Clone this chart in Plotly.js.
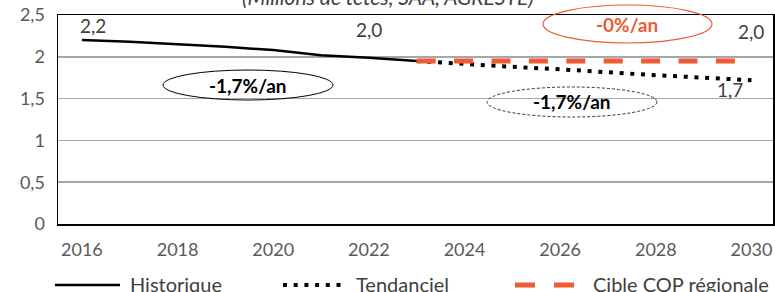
<!DOCTYPE html>
<html>
<head>
<meta charset="utf-8">
<script src="https://cdn.plot.ly/plotly-3.0.1.min.js"></script>
<style>html,body{margin:0;padding:0;background:#fff;}#chart{width:775px;height:292px;}</style>
</head>
<body>
<div id="chart"></div>
<script>
// ---- Data ----
const histYears = [2016, 2017, 2018, 2019, 2020, 2021, 2022, 2023];
const histValues = [2.20, 2.18, 2.15, 2.12, 2.08, 2.02, 1.99, 1.95];
const trendYears = [2023, 2024, 2025, 2026, 2027, 2028, 2029, 2030];
const trendValues = [1.95, 1.91, 1.88, 1.85, 1.81, 1.78, 1.75, 1.72];
const copYears = [2023, 2024, 2025, 2026, 2027, 2028, 2029, 2030];
const copValues = [1.95, 1.95, 1.95, 1.95, 1.95, 1.95, 1.95, 1.95];
const seriesNames = ['Historique', 'Tendanciel', 'Cible COP régionale'];
const xTickVals = [2016, 2018, 2020, 2022, 2024, 2026, 2028, 2030];
const xTickText = ['2016', '2018', '2020', '2022', '2024', '2026', '2028', '2030'];
const yTickVals = [0, 0.5, 1, 1.5, 2, 2.5];
const yTickText = ['0', '0,5', '1', '1,5', '2', '2,5'];
const rateLabels = ['-1,7%/an', '-1,7%/an', '-0%/an'];
const titleText = '(Millions de têtes, SAA, AGRESTE)';

const FONT = 'Lato, "Open Sans", sans-serif';
const ORANGE = '#EE5A32';
const fmt = v => (Math.round(v * 10) / 10).toFixed(1).replace('.', ',');

const traces = [
  {x: histYears, y: histValues, name: seriesNames[0], type: 'scatter', mode: 'lines',
   line: {color: '#000000', width: 2.5}, showlegend: false, hoverinfo: 'skip'},
  {x: trendYears, y: trendValues, name: seriesNames[1], type: 'scatter', mode: 'lines',
   line: {color: '#000000', width: 4, dash: '4px,6.7px'}, showlegend: false, hoverinfo: 'skip'},
  {x: copYears, y: copValues, name: seriesNames[2], type: 'scatter', mode: 'lines',
   line: {color: ORANGE, width: 5, dash: '19px,18.4px'}, showlegend: false, hoverinfo: 'skip'}
];

// pixel helpers for decorations (plot area: x 58..773, y 15..224)
const px = p => (p - 58) / 715;
const py = p => (224 - p) / 209;

const lblFont = {family: FONT, size: 19, color: '#404040'};
const rateSize = 19;
const legSize = 20;
const annotations = [
  {xref: 'paper', yref: 'paper', x: px(388), y: py(11), xanchor: 'center', yanchor: 'bottom',
   text: '<i>' + titleText + '</i>', showarrow: false, font: {family: FONT, size: 21, color: '#404040'}},
  // data labels
  {x: histYears[0], y: histValues[0], xref: 'x', yref: 'y', yshift: 1, xanchor: 'left', xshift: -4, yanchor: 'bottom',
   text: fmt(histValues[0]), showarrow: false, font: lblFont},
  {x: histYears[6], y: histValues[6], xref: 'x', yref: 'y', yshift: 15, xanchor: 'center', yanchor: 'bottom',
   text: fmt(histValues[6]), showarrow: false, font: lblFont},
  {x: copYears[7], y: copValues[7], xref: 'x', yref: 'y', yshift: 16, xanchor: 'center', yanchor: 'bottom',
   text: fmt(copValues[7]), showarrow: false, font: lblFont},
  {x: trendYears[7], y: trendValues[7], xref: 'x', yref: 'y', yshift: 4, xshift: -21, xanchor: 'center', yanchor: 'top',
   text: fmt(trendValues[7]), showarrow: false, font: lblFont},
  // rate labels
  {xref: 'paper', yref: 'paper', x: px(248), y: py(85), xanchor: 'center', yanchor: 'middle',
   text: '<b>' + rateLabels[0] + '</b>', showarrow: false, font: {family: FONT, size: rateSize, color: '#000000'}},
  {xref: 'paper', yref: 'paper', x: px(572), y: py(102), xanchor: 'center', yanchor: 'middle',
   text: '<b>' + rateLabels[1] + '</b>', showarrow: false, font: {family: FONT, size: rateSize, color: '#000000'}},
  {xref: 'paper', yref: 'paper', x: px(627), y: py(24), xanchor: 'center', yanchor: 'middle',
   text: '<b>' + rateLabels[2] + '</b>', showarrow: false, font: {family: FONT, size: rateSize, color: ORANGE}},
  // legend texts
  {xref: 'paper', yref: 'paper', x: px(128), y: py(284), xanchor: 'left', yanchor: 'middle', text: seriesNames[0], showarrow: false,
   font: {family: FONT, size: legSize, color: '#404040'}},
  {xref: 'paper', yref: 'paper', x: px(354), y: py(284), xanchor: 'left', yanchor: 'middle', text: seriesNames[1], showarrow: false,
   font: {family: FONT, size: legSize, color: '#404040'}},
  {xref: 'paper', yref: 'paper', x: px(591), y: py(284), xanchor: 'left', yanchor: 'middle', text: seriesNames[2], showarrow: false,
   font: {family: FONT, size: legSize, color: '#404040'}}
];

const shapes = [
  {type: 'circle', xref: 'paper', yref: 'paper', x0: px(163), x1: px(333), y0: py(100), y1: py(70),
   line: {color: '#000000', width: 1}},
  {type: 'circle', xref: 'paper', yref: 'paper', x0: px(487), x1: px(657), y0: py(117), y1: py(87),
   line: {color: '#333333', width: 1, dash: '3px,2px'}},
  {type: 'circle', xref: 'paper', yref: 'paper', x0: px(543), x1: px(712), y0: py(43), y1: py(5),
   line: {color: ORANGE, width: 1.2}},
  // legend samples
  {type: 'line', xref: 'paper', yref: 'paper', x0: px(55), x1: px(120), y0: py(285), y1: py(285),
   line: {color: '#000000', width: 2.5}},
  {type: 'line', xref: 'paper', yref: 'paper', x0: px(283), x1: px(346), y0: py(285), y1: py(285),
   line: {color: '#000000', width: 4, dash: '4px,6.7px'}},
  {type: 'line', xref: 'paper', yref: 'paper', x0: px(515), x1: px(575), y0: py(285), y1: py(285),
   line: {color: ORANGE, width: 5, dash: '20px,19px'}}
];

const layout = {
  width: 775, height: 292,
  margin: {l: 58, r: 2, t: 15, b: 68, pad: 0},
  paper_bgcolor: '#ffffff', plot_bgcolor: '#ffffff',
  showlegend: false,
  font: {family: FONT, color: '#595959'},
  xaxis: {
    range: [2015.5, 2030.45], tickvals: xTickVals, ticktext: xTickText,
    showgrid: false, zeroline: false, showline: true, mirror: true, linecolor: '#000000', linewidth: 1.5,
    ticks: '', ticklabelstandoff: 9, tickfont: {family: FONT, size: 18, color: '#595959'}
  },
  yaxis: {
    range: [0, 2.5], tickvals: yTickVals, ticktext: yTickText,
    showgrid: true, gridcolor: '#A6A6A6', gridwidth: 1.5, zeroline: false,
    showline: true, mirror: true, linecolor: '#000000', linewidth: 1.5,
    ticks: '', ticklabelstandoff: 8, tickfont: {family: FONT, size: 18, color: '#595959'}
  },
  annotations: annotations,
  shapes: shapes
};

Plotly.newPlot('chart', traces, layout, {staticPlot: true, displayModeBar: false});
</script>
</body>
</html>
